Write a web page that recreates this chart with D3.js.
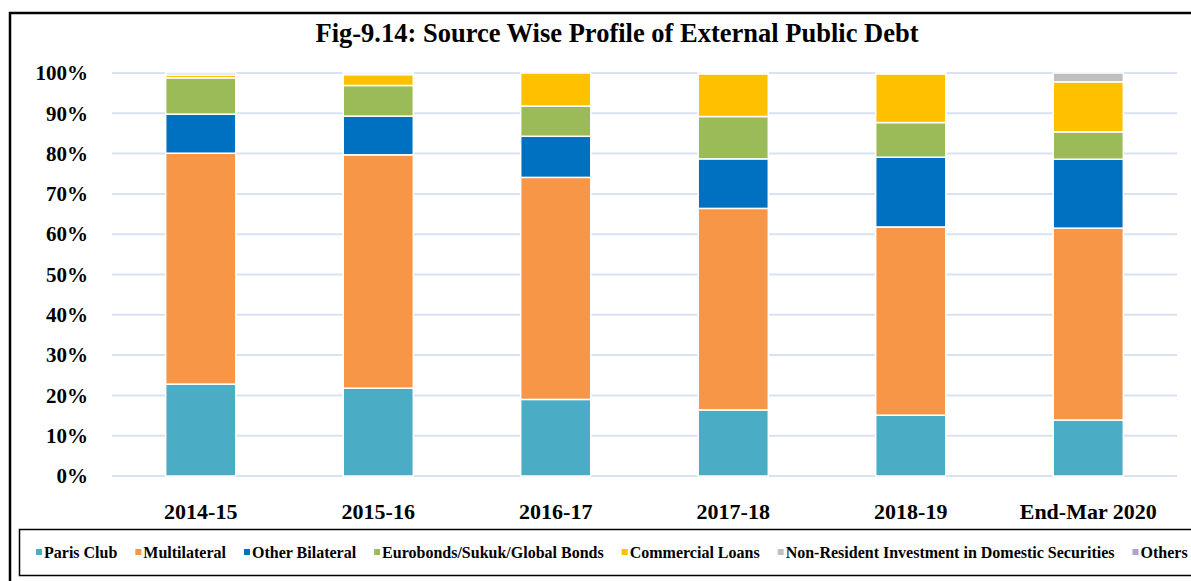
<!DOCTYPE html>
<html><head><meta charset="utf-8">
<script src="https://cdn.jsdelivr.net/npm/d3@7"></script>
<style>body{margin:0;background:#fff;}svg{display:block;}</style>
</head><body>
<svg id="chart" width="1191" height="581"></svg>
<script>
const categories = ["2014-15","2015-16","2016-17","2017-18","2018-19","End-Mar 2020"];
const seriesNames = ["Paris Club","Multilateral","Other Bilateral","Eurobonds/Sukuk/Global Bonds","Commercial Loans","Non-Resident Investment in Domestic Securities","Others"];
const parisClub      = [22.8, 21.8, 19.0, 16.4, 15.1, 13.9];
const multilateral   = [57.3, 57.9, 55.1, 50.0, 46.7, 47.6];
const otherBilateral = [ 9.7,  9.6, 10.2, 12.3, 17.3, 17.1];
const eurobonds      = [ 9.0,  7.6,  7.5, 10.5,  8.6,  6.8];
const commercial     = [ 0.7,  2.7,  8.2, 10.6, 12.1, 12.4];
const nonResident    = [ 0.0,  0.0,  0.0,  0.2,  0.2,  2.2];
const others         = [ 0.5,  0.4,  0.0,  0.0,  0.0,  0.0];
const yTicks = [0,10,20,30,40,50,60,70,80,90,100];
const colors = ["#4BACC6","#F79646","#0070C0","#9BBB59","#FFC000","#BFBFBF","#B3A2C7"];

const allSeries = [parisClub, multilateral, otherBilateral, eurobonds, commercial, nonResident, others];
const table = categories.map((c,i)=>{const o={cat:c}; seriesNames.forEach((s,j)=>o[s]=allSeries[j][i]); return o;});

const svg = d3.select("#chart");
const serif = "'Liberation Serif','Times New Roman',serif";

// outer frame
svg.append("rect").attr("x",10).attr("y",13).attr("width",1200).attr("height",600)
  .attr("fill","none").attr("stroke","#000").attr("stroke-width",2.5);

// title
svg.append("text").attr("x",617).attr("y",42).attr("text-anchor","middle")
  .attr("font-family",serif).attr("font-weight","bold").attr("font-size",26.5)
  .text("Fig-9.14: Source Wise Profile of External Public Debt");

const x = d3.scaleBand().domain(categories).range([112,1177]).paddingInner(0.605).paddingOuter(0.3025);
const y = d3.scaleLinear().domain([0,100]).range([476,73]);

// gridlines
svg.append("g").selectAll("line").data(yTicks).join("line")
  .attr("x1",112).attr("x2",1177).attr("y1",d=>y(d)).attr("y2",d=>y(d))
  .attr("stroke","#D9E2F3").attr("stroke-width",2);

// y axis
const yAxis = svg.append("g").attr("transform","translate(98,0)")
  .call(d3.axisLeft(y).tickValues(yTicks).tickFormat(d=>d+"%").tickSize(0).tickPadding(10));
yAxis.select(".domain").remove();
yAxis.selectAll("text").attr("font-family",serif).attr("font-weight","bold").attr("font-size",21).attr("fill","#000");

// x axis
const xAxis = svg.append("g").attr("transform","translate(0,500)")
  .call(d3.axisBottom(x).tickSize(0).tickPadding(3));
xAxis.select(".domain").remove();
xAxis.selectAll("text").attr("font-family",serif).attr("font-weight","bold").attr("font-size",22).attr("fill","#000");

// bars
const stacked = d3.stack().keys(seriesNames)(table);
svg.append("g").selectAll("g").data(stacked).join("g")
  .attr("fill",(d,i)=>colors[i])
  .selectAll("rect").data(d=>d.filter(p=>p[1]-p[0]>0)).join("rect")
  .attr("x",d=>x(d.data.cat)).attr("width",x.bandwidth())
  .attr("y",d=>y(d[1])).attr("height",d=>y(d[0])-y(d[1]))
  .attr("stroke","#fff").attr("stroke-width",1.5);

// legend box
svg.append("rect").attr("x",19.5).attr("y",529.5).attr("width",1200).attr("height",46)
  .attr("fill","#fff").attr("stroke","#000").attr("stroke-width",1.5);
const leg = svg.append("g");
let lx = 36;
seriesNames.forEach((s,i)=>{
  leg.append("rect").attr("x",lx).attr("y",549).attr("width",6).attr("height",6).attr("fill",colors[i]);
  const t = leg.append("text").attr("x",lx+8).attr("y",557.5)
    .attr("font-family",serif).attr("font-weight","bold").attr("font-size",16).text(s);
  lx += 8 + t.node().getComputedTextLength() + 18;
});
</script>
</body></html>
